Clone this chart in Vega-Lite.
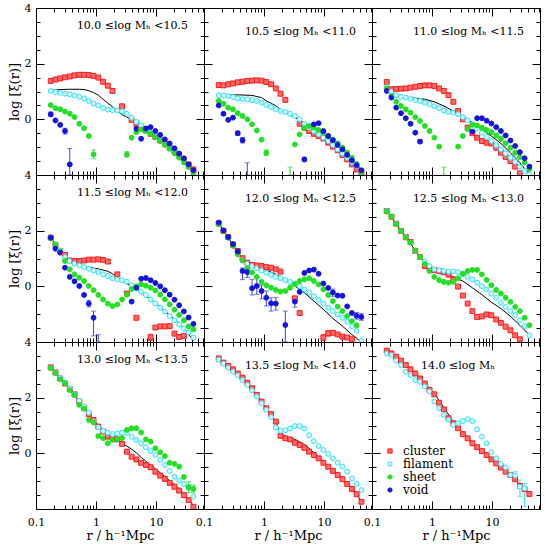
{
"$schema":"https://vega.github.io/schema/vega-lite/v6.json",
"background":"white",
"padding":{"left":7,"top":1,"right":2,"bottom":0},
"config":{"font":"DejaVu Serif","view":{"stroke":"black","strokeWidth":1},
"axis":{"labelFont":"DejaVu Serif","titleFont":"DejaVu Serif","labelFontSize":11,"titleFontSize":13,"titleFontWeight":"normal","labelColor":"black","titleColor":"black","tickColor":"black","domain":false,"grid":false,"tickWidth":1,"labelFlush":false,"labelOverlap":false},
"title":{"font":"DejaVu Serif","fontSize":11,"fontWeight":"normal","color":"black"},
"legend":{"labelFont":"DejaVu Serif"}},
"datasets":{
"pts":[
{"p":1,"r":0.176,"cluster":1.38,"filament":1.02,"sheet":0.51,"void":0.18,"model":1.04},
{"p":1,"r":0.211,"cluster":1.43,"filament":0.98,"sheet":0.40,"void":-0.04},
{"p":1,"r":0.253,"cluster":1.47,"filament":0.95,"sheet":0.36,"void":-0.20,"model":1.07},
{"p":1,"r":0.304,"cluster":1.51,"filament":0.92,"sheet":0.28,"void":-0.42},
{"p":1,"r":0.365,"cluster":1.54,"filament":0.90,"sheet":0.20,"void":-1.62,"model":1.08},
{"p":1,"r":0.438,"cluster":1.58,"filament":0.86,"sheet":0.08},
{"p":1,"r":0.526,"cluster":1.60,"filament":0.81,"sheet":-0.16,"model":1.08},
{"p":1,"r":0.631,"cluster":1.60,"filament":0.75,"sheet":-0.32,"model":1.07},
{"p":1,"r":0.757,"cluster":1.59,"filament":0.66,"sheet":-0.60,"model":1.03},
{"p":1,"r":0.908,"cluster":1.56,"filament":0.57,"sheet":-1.26,"model":0.96},
{"p":1,"r":1.09,"cluster":1.50,"filament":0.50,"model":0.87},
{"p":1,"r":1.31,"cluster":1.35,"filament":0.41,"model":0.72},
{"p":1,"r":1.57,"cluster":1.21,"filament":0.35,"model":0.58},
{"p":1,"r":1.88,"cluster":1.02,"filament":0.33,"model":0.45},
{"p":1,"r":2.26,"filament":0.32,"model":0.30},
{"p":1,"r":2.71,"cluster":0.47,"filament":0.29,"model":0.17},
{"p":1,"r":3.26,"filament":0.20,"sheet":-1.26,"model":0.08},
{"p":1,"r":3.91,"cluster":-0.02,"filament":0.06,"sheet":-0.66,"model":-0.02},
{"p":1,"r":4.69,"cluster":-0.16,"filament":-0.09,"sheet":-0.46,"void":-0.34,"model":-0.12},
{"p":1,"r":5.63,"cluster":-0.28,"filament":-0.22,"sheet":-0.36,"void":-0.70,"model":-0.24},
{"p":1,"r":6.75,"cluster":-0.40,"filament":-0.35,"sheet":-0.42,"void":-0.33,"model":-0.36},
{"p":1,"r":8.1,"cluster":-0.52,"filament":-0.48,"sheet":-0.52,"void":-0.28,"model":-0.48},
{"p":1,"r":9.72,"cluster":-0.63,"filament":-0.62,"sheet":-0.64,"void":-0.42,"model":-0.61},
{"p":1,"r":11.7,"cluster":-0.76,"filament":-0.75,"sheet":-0.78,"void":-0.56,"model":-0.74},
{"p":1,"r":14,"cluster":-0.88,"filament":-0.89,"sheet":-0.92,"void":-0.72,"model":-0.88},
{"p":1,"r":16.8,"cluster":-1.02,"filament":-1.03,"sheet":-1.06,"void":-0.87,"model":-1.02},
{"p":1,"r":20.2,"cluster":-1.15,"filament":-1.18,"sheet":-1.22,"void":-1.04,"model":-1.17},
{"p":1,"r":24.2,"cluster":-1.30,"filament":-1.35,"sheet":-1.38,"void":-1.23,"model":-1.33},
{"p":1,"r":29,"cluster":-1.45,"filament":-1.52,"sheet":-1.55,"void":-1.40,"model":-1.50},
{"p":1,"r":34.8,"cluster":-1.62,"filament":-1.67,"sheet":-1.72,"void":-1.62,"model":-1.67},
{"p":1,"r":41.8,"cluster":-1.80,"filament":-1.85,"sheet":-1.92,"void":-1.83,"model":-1.86},
{"p":2,"r":0.176,"cluster":1.23,"filament":0.87,"sheet":0.66,"void":0.50,"model":0.87},
{"p":2,"r":0.211,"cluster":1.22,"filament":0.86,"sheet":0.56,"void":0.20},
{"p":2,"r":0.253,"cluster":1.26,"filament":0.84,"sheet":0.42,"void":-0.02},
{"p":2,"r":0.304,"cluster":1.29,"filament":0.80,"sheet":0.36,"void":0.06},
{"p":2,"r":0.365,"cluster":1.33,"filament":0.75,"sheet":0.22,"void":-0.50,"model":0.88},
{"p":2,"r":0.438,"cluster":1.35,"filament":0.73,"sheet":0.12,"void":-0.75},
{"p":2,"r":0.526,"cluster":1.38,"filament":0.72,"sheet":0.00},
{"p":2,"r":0.631,"cluster":1.39,"filament":0.69,"sheet":-0.18,"model":0.86},
{"p":2,"r":0.757,"cluster":1.40,"filament":0.66,"sheet":-0.40},
{"p":2,"r":0.908,"cluster":1.39,"filament":0.60,"sheet":-0.73,"model":0.78},
{"p":2,"r":1.09,"cluster":1.34,"filament":0.51,"sheet":-1.20,"model":0.66},
{"p":2,"r":1.31,"cluster":1.26,"filament":0.44,"model":0.58},
{"p":2,"r":1.57,"cluster":1.11,"filament":0.36,"model":0.48},
{"p":2,"r":1.88,"cluster":0.92,"filament":0.30,"model":0.36},
{"p":2,"r":2.26,"cluster":0.70,"filament":0.26,"model":0.24},
{"p":2,"r":2.71,"filament":0.20,"model":0.15},
{"p":2,"r":3.26,"filament":0.12,"sheet":-0.90,"model":0.06},
{"p":2,"r":3.91,"cluster":-0.16,"filament":0.00,"sheet":-0.54,"model":-0.03},
{"p":2,"r":4.69,"cluster":-0.30,"filament":-0.16,"sheet":-0.32,"void":-1.44,"model":-0.12},
{"p":2,"r":5.63,"cluster":-0.42,"filament":-0.30,"sheet":-0.24,"model":-0.22},
{"p":2,"r":6.75,"cluster":-0.52,"filament":-0.42,"sheet":-0.30,"void":-0.18,"model":-0.33},
{"p":2,"r":8.1,"cluster":-0.60,"filament":-0.54,"sheet":-0.38,"void":-0.14,"model":-0.44},
{"p":2,"r":9.72,"cluster":-0.69,"filament":-0.66,"sheet":-0.48,"void":-0.42,"model":-0.55},
{"p":2,"r":11.7,"cluster":-0.84,"filament":-0.78,"sheet":-0.60,"void":-0.60,"model":-0.67},
{"p":2,"r":14,"cluster":-0.98,"filament":-0.92,"sheet":-0.73,"void":-0.75,"model":-0.80},
{"p":2,"r":16.8,"cluster":-1.11,"filament":-1.08,"sheet":-0.86,"void":-0.92,"model":-0.94},
{"p":2,"r":20.2,"cluster":-1.28,"filament":-1.23,"sheet":-1.02,"void":-1.08,"model":-1.08},
{"p":2,"r":24.2,"cluster":-1.44,"filament":-1.38,"sheet":-1.20,"void":-1.28,"model":-1.24},
{"p":2,"r":29,"cluster":-1.62,"filament":-1.53,"sheet":-1.38,"void":-1.47,"model":-1.40},
{"p":2,"r":34.8,"cluster":-1.80,"filament":-1.68,"sheet":-1.60,"void":-1.65,"model":-1.60},
{"p":2,"r":41.8,"cluster":-1.96,"filament":-1.86,"sheet":-1.90,"void":-1.83,"model":-1.85},
{"p":3,"r":0.176,"cluster":1.34,"filament":1.16,"sheet":1.11,"void":1.02,"model":1.11},
{"p":3,"r":0.211,"cluster":1.08,"filament":0.99,"sheet":0.84,"void":0.78},
{"p":3,"r":0.253,"cluster":1.09,"filament":0.86,"sheet":0.63,"void":0.42,"model":0.86},
{"p":3,"r":0.304,"cluster":1.10,"filament":0.81,"sheet":0.48,"void":0.22},
{"p":3,"r":0.365,"cluster":1.11,"filament":0.78,"sheet":0.36,"void":0.04,"model":0.78},
{"p":3,"r":0.438,"cluster":1.14,"filament":0.74,"sheet":0.24,"void":-0.16},
{"p":3,"r":0.526,"cluster":1.17,"filament":0.69,"sheet":0.08,"void":-0.48,"model":0.76},
{"p":3,"r":0.631,"cluster":1.20,"filament":0.66,"sheet":-0.06,"void":-0.80},
{"p":3,"r":0.757,"cluster":1.22,"filament":0.60,"sheet":-0.24,"model":0.72},
{"p":3,"r":0.908,"cluster":1.22,"filament":0.54,"sheet":-0.42},
{"p":3,"r":1.09,"cluster":1.20,"filament":0.47,"sheet":-0.66,"model":0.63},
{"p":3,"r":1.31,"cluster":1.11,"filament":0.40,"sheet":-0.98},
{"p":3,"r":1.57,"cluster":1.02,"filament":0.32,"model":0.48},
{"p":3,"r":1.88,"cluster":0.87,"filament":0.26},
{"p":3,"r":2.26,"cluster":0.63,"filament":0.24,"model":0.30},
{"p":3,"r":2.71,"cluster":0.30,"filament":0.18,"sheet":-0.98},
{"p":3,"r":3.26,"cluster":0.00,"filament":0.08,"sheet":-0.60,"model":0.12},
{"p":3,"r":3.91,"cluster":-0.30,"filament":-0.04,"sheet":-0.35},
{"p":3,"r":4.69,"cluster":-0.50,"filament":-0.18,"sheet":-0.20,"void":-0.44,"model":-0.12},
{"p":3,"r":5.63,"cluster":-0.66,"filament":-0.32,"sheet":-0.22,"void":0.04},
{"p":3,"r":6.75,"cluster":-0.78,"filament":-0.48,"sheet":-0.30,"void":0.04,"model":-0.36},
{"p":3,"r":8.1,"cluster":-0.84,"filament":-0.63,"sheet":-0.38,"void":-0.05},
{"p":3,"r":9.72,"cluster":-0.87,"filament":-0.78,"sheet":-0.46,"void":-0.15,"model":-0.60},
{"p":3,"r":11.7,"cluster":-1.02,"filament":-0.93,"sheet":-0.58,"void":-0.28},
{"p":3,"r":14,"cluster":-1.20,"filament":-1.08,"sheet":-0.70,"void":-0.42,"model":-0.87},
{"p":3,"r":16.8,"cluster":-1.35,"filament":-1.23,"sheet":-0.86,"void":-0.58},
{"p":3,"r":20.2,"cluster":-1.50,"filament":-1.38,"sheet":-1.02,"void":-0.76,"model":-1.20},
{"p":3,"r":24.2,"cluster":-1.70,"filament":-1.53,"sheet":-1.20,"void":-0.96},
{"p":3,"r":29,"cluster":-1.94,"filament":-1.70,"sheet":-1.36,"void":-1.18,"model":-1.56},
{"p":3,"r":34.8,"filament":-1.86,"sheet":-1.55,"void":-1.40},
{"p":3,"r":41.8,"filament":-1.98,"sheet":-1.78,"void":-1.70,"model":-1.98},
{"p":4,"r":0.176,"cluster":1.75,"filament":1.75,"sheet":1.72,"void":1.75,"model":1.75},
{"p":4,"r":0.211,"cluster":1.49,"filament":1.51,"sheet":1.49,"void":1.35},
{"p":4,"r":0.253,"cluster":1.27,"filament":1.29,"sheet":1.25,"void":1.21,"model":1.27},
{"p":4,"r":0.304,"cluster":1.13,"filament":1.05,"sheet":0.91,"void":0.67,"model":1.05},
{"p":4,"r":0.365,"cluster":0.93,"filament":0.91,"sheet":0.61,"void":0.34,"model":0.90},
{"p":4,"r":0.438,"cluster":0.91,"filament":0.81,"sheet":0.43,"void":0.18,"model":0.80},
{"p":4,"r":0.526,"cluster":0.91,"filament":0.75,"sheet":0.31,"void":0.01,"model":0.74},
{"p":4,"r":0.631,"cluster":0.93,"filament":0.69,"sheet":0.19,"void":-0.31},
{"p":4,"r":0.757,"cluster":0.96,"filament":0.63,"sheet":0.01,"void":-0.62,"model":0.68},
{"p":4,"r":0.908,"cluster":0.96,"filament":0.57,"sheet":-0.14,"void":-1.13},
{"p":4,"r":1.09,"cluster":0.97,"filament":0.51,"sheet":-0.31,"model":0.63},
{"p":4,"r":1.31,"cluster":0.95,"filament":0.43,"sheet":-0.47},
{"p":4,"r":1.57,"cluster":0.89,"filament":0.37,"sheet":-0.62,"model":0.54},
{"p":4,"r":1.88,"filament":0.29,"sheet":-0.71,"model":0.45},
{"p":4,"r":2.26,"cluster":0.43,"filament":0.25,"sheet":-0.65,"model":0.34},
{"p":4,"r":2.71,"filament":0.22,"sheet":-0.47},
{"p":4,"r":3.26,"cluster":-0.26,"filament":0.17,"sheet":-0.30,"model":0.10},
{"p":4,"r":3.91,"filament":0.04,"sheet":-0.10,"void":-0.55},
{"p":4,"r":4.69,"cluster":-1.13,"filament":-0.07,"sheet":0.00,"void":-0.05,"model":-0.11},
{"p":4,"r":5.63,"filament":-0.19,"sheet":0.07,"void":0.27},
{"p":4,"r":6.75,"filament":-0.31,"sheet":0.02,"void":0.30,"model":-0.35},
{"p":4,"r":8.1,"cluster":-1.83,"filament":-0.47,"sheet":-0.05,"void":0.22},
{"p":4,"r":9.72,"cluster":-1.48,"filament":-0.61,"sheet":-0.15,"void":0.12,"model":-0.59},
{"p":4,"r":11.7,"cluster":-1.44,"filament":-0.77,"sheet":-0.30,"void":0.00},
{"p":4,"r":14,"cluster":-1.44,"filament":-0.91,"sheet":-0.47,"void":-0.14,"model":-0.89},
{"p":4,"r":16.8,"cluster":-1.43,"filament":-1.07,"sheet":-0.65,"void":-0.30},
{"p":4,"r":20.2,"cluster":-1.70,"filament":-1.22,"sheet":-0.84,"void":-0.48,"model":-1.19},
{"p":4,"r":24.2,"cluster":-1.82,"filament":-1.37,"sheet":-1.03,"void":-0.68},
{"p":4,"r":29,"cluster":-1.78,"filament":-1.52,"sheet":-1.22,"void":-0.90,"model":-1.49},
{"p":4,"r":34.8,"filament":-1.66,"sheet":-1.44,"void":-1.12},
{"p":4,"r":41.8,"filament":-1.84,"sheet":-1.55,"void":-1.35,"model":-1.96},
{"p":5,"r":0.176,"cluster":2.26,"filament":2.25,"sheet":2.23,"void":2.29,"model":2.26},
{"p":5,"r":0.211,"cluster":1.99,"filament":2.01,"sheet":1.99,"void":2.01},
{"p":5,"r":0.253,"cluster":1.77,"filament":1.75,"sheet":1.75,"void":1.77,"model":1.75},
{"p":5,"r":0.304,"cluster":1.49,"filament":1.51,"sheet":1.45,"void":1.52},
{"p":5,"r":0.365,"cluster":1.27,"filament":1.21,"sheet":1.15,"void":1.25,"model":1.21},
{"p":5,"r":0.438,"cluster":1.01,"filament":0.93,"sheet":0.93,"void":0.55},
{"p":5,"r":0.526,"cluster":0.85,"filament":0.81,"sheet":0.65,"void":0.51,"model":0.81},
{"p":5,"r":0.631,"cluster":0.77,"filament":0.73,"sheet":0.50,"void":-0.07},
{"p":5,"r":0.757,"cluster":0.75,"filament":0.65,"sheet":0.34,"void":0.01,"model":0.69},
{"p":5,"r":0.908,"cluster":0.73,"filament":0.57,"sheet":0.16,"void":-0.17},
{"p":5,"r":1.09,"cluster":0.69,"filament":0.49,"sheet":0.04,"void":-0.41,"model":0.59},
{"p":5,"r":1.31,"cluster":0.67,"filament":0.41,"sheet":-0.05,"void":-0.61},
{"p":5,"r":1.57,"cluster":0.61,"filament":0.34,"sheet":-0.13,"void":-0.62,"model":0.43},
{"p":5,"r":1.88,"cluster":0.53,"filament":0.29,"sheet":-0.19},
{"p":5,"r":2.26,"filament":0.22,"sheet":-0.17,"void":-1.39,"model":0.25},
{"p":5,"r":2.71,"filament":0.16,"sheet":-0.05},
{"p":5,"r":3.26,"cluster":-0.43,"filament":0.10,"sheet":0.07,"void":-0.55,"model":0.01},
{"p":5,"r":3.91,"cluster":-0.96,"filament":0.01,"sheet":0.19,"void":-0.20},
{"p":5,"r":4.69,"filament":-0.11,"sheet":0.25,"void":0.48,"model":-0.23},
{"p":5,"r":5.63,"filament":-0.23,"sheet":0.29,"void":0.57},
{"p":5,"r":6.75,"filament":-0.35,"sheet":0.19,"void":0.60,"model":-0.53},
{"p":5,"r":8.1,"filament":-0.49,"sheet":0.07,"void":0.45},
{"p":5,"r":9.72,"cluster":-1.84,"filament":-0.62,"sheet":-0.11,"void":0.10,"model":-0.83},
{"p":5,"r":11.7,"cluster":-1.69,"filament":-0.77,"sheet":-0.31,"void":-0.06},
{"p":5,"r":14,"cluster":-1.67,"filament":-0.89,"sheet":-0.53,"void":-0.22,"model":-1.15},
{"p":5,"r":16.8,"cluster":-1.73,"filament":-1.01,"sheet":-0.73,"void":-0.33},
{"p":5,"r":20.2,"cluster":-1.81,"filament":-1.13,"sheet":-0.89,"void":-0.34,"model":-1.43},
{"p":5,"r":24.2,"cluster":-1.84,"filament":-1.27,"sheet":-1.07,"void":-0.72},
{"p":5,"r":29,"cluster":-1.90,"filament":-1.43,"sheet":-1.25,"void":-0.96,"model":-1.73},
{"p":5,"r":34.8,"filament":-1.60,"sheet":-1.40,"void":-1.06},
{"p":5,"r":41.8,"filament":-1.96,"void":-1.10,"model":-2.0},
{"p":6,"r":0.176,"cluster":2.71,"filament":2.71,"sheet":2.68,"model":2.71},
{"p":6,"r":0.211,"cluster":2.50,"filament":2.50,"sheet":2.50},
{"p":6,"r":0.253,"cluster":2.25,"filament":2.25,"sheet":2.23,"model":2.25},
{"p":6,"r":0.304,"cluster":1.99,"filament":1.99,"sheet":1.99},
{"p":6,"r":0.365,"cluster":1.77,"filament":1.77,"sheet":1.75,"model":1.77},
{"p":6,"r":0.438,"cluster":1.59,"filament":1.57,"sheet":1.57},
{"p":6,"r":0.526,"cluster":1.27,"filament":1.27,"sheet":1.29,"model":1.29},
{"p":6,"r":0.631,"cluster":1.05,"filament":1.05,"sheet":1.05},
{"p":6,"r":0.757,"cluster":0.73,"filament":0.89,"sheet":0.80,"model":0.81},
{"p":6,"r":0.908,"cluster":0.63,"filament":0.73,"sheet":0.55},
{"p":6,"r":1.09,"cluster":0.59,"filament":0.61,"sheet":0.34,"model":0.61},
{"p":6,"r":1.31,"cluster":0.55,"filament":0.58,"sheet":0.22},
{"p":6,"r":1.57,"cluster":0.51,"filament":0.55,"sheet":0.16,"model":0.49},
{"p":6,"r":1.88,"cluster":0.42,"filament":0.53,"sheet":0.13},
{"p":6,"r":2.26,"cluster":0.25,"filament":0.53,"sheet":0.16,"model":0.34},
{"p":6,"r":2.71,"cluster":-0.01,"filament":0.51,"sheet":0.29},
{"p":6,"r":3.26,"cluster":-0.33,"filament":0.43,"sheet":0.45,"model":0.19},
{"p":6,"r":3.91,"cluster":-0.62,"filament":0.34,"sheet":0.55},
{"p":6,"r":4.69,"cluster":-0.89,"filament":0.25,"sheet":0.59,"model":-0.05},
{"p":6,"r":5.63,"cluster":-1.10,"filament":0.13,"sheet":0.59},
{"p":6,"r":6.75,"cluster":-1.08,"filament":0.01,"sheet":0.43,"model":-0.30},
{"p":6,"r":8.1,"cluster":-1.01,"filament":-0.11,"sheet":0.23},
{"p":6,"r":9.72,"cluster":-1.04,"filament":-0.26,"sheet":0.04,"model":-0.57},
{"p":6,"r":11.7,"cluster":-1.19,"filament":-0.41,"sheet":-0.13},
{"p":6,"r":14,"cluster":-1.31,"filament":-0.59,"sheet":-0.26,"model":-0.80},
{"p":6,"r":16.8,"cluster":-1.45,"filament":-0.74,"sheet":-0.41},
{"p":6,"r":20.2,"cluster":-1.58,"filament":-0.89,"sheet":-0.56,"model":-1.08},
{"p":6,"r":24.2,"cluster":-1.76,"filament":-1.03,"sheet":-0.74},
{"p":6,"r":29,"cluster":-1.90,"filament":-1.22,"sheet":-0.89,"model":-1.40},
{"p":6,"r":34.8,"filament":-1.43,"sheet":-1.13},
{"p":6,"r":41.8,"filament":-1.76,"sheet":-1.40,"model":-1.75},
{"p":7,"r":0.176,"cluster":3.09,"filament":3.08,"sheet":3.06,"model":3.08},
{"p":7,"r":0.211,"cluster":2.91,"filament":2.91,"sheet":2.88},
{"p":7,"r":0.253,"cluster":2.69,"filament":2.71,"sheet":2.66},
{"p":7,"r":0.304,"cluster":2.51,"filament":2.54,"sheet":2.51,"model":2.52},
{"p":7,"r":0.365,"cluster":2.31,"filament":2.34,"sheet":2.27},
{"p":7,"r":0.438,"cluster":2.12,"filament":2.13,"sheet":2.10},
{"p":7,"r":0.526,"cluster":1.86,"filament":1.88,"sheet":1.74,"model":1.86},
{"p":7,"r":0.631,"cluster":1.64,"filament":1.68,"sheet":1.60},
{"p":7,"r":0.757,"cluster":1.41,"filament":1.46,"sheet":1.20},
{"p":7,"r":0.908,"cluster":1.20,"filament":1.14,"sheet":1.11,"model":1.20},
{"p":7,"r":1.09,"cluster":0.96,"filament":0.93,"sheet":0.62},
{"p":7,"r":1.31,"cluster":0.78,"filament":0.80,"sheet":0.54,"model":0.85},
{"p":7,"r":1.57,"cluster":0.60,"filament":0.74,"sheet":0.36,"model":0.70},
{"p":7,"r":1.88,"cluster":0.56,"filament":0.69,"sheet":0.48,"model":0.58},
{"p":7,"r":2.26,"cluster":0.50,"filament":0.72,"sheet":0.50,"model":0.45},
{"p":7,"r":2.71,"cluster":0.34,"filament":0.74,"sheet":0.55,"model":0.36},
{"p":7,"r":3.26,"cluster":0.06,"filament":0.74,"sheet":0.84,"model":0.26},
{"p":7,"r":3.91,"cluster":-0.12,"filament":0.60,"sheet":0.90,"model":0.15},
{"p":7,"r":4.69,"cluster":-0.22,"filament":0.48,"sheet":0.90,"model":0.02},
{"p":7,"r":5.63,"cluster":-0.34,"filament":0.36,"sheet":0.75,"model":-0.15},
{"p":7,"r":6.75,"cluster":-0.42,"filament":0.22,"sheet":0.50,"model":-0.28},
{"p":7,"r":8.1,"cluster":-0.50,"filament":0.08,"sheet":0.42,"model":-0.42},
{"p":7,"r":9.72,"cluster":-0.66,"filament":-0.06,"sheet":0.18,"model":-0.55},
{"p":7,"r":11.7,"cluster":-0.80,"filament":-0.24,"sheet":0.04,"model":-0.70},
{"p":7,"r":14,"cluster":-0.92,"filament":-0.42,"sheet":-0.10,"model":-0.84},
{"p":7,"r":16.8,"cluster":-1.06,"filament":-0.63,"sheet":-0.34,"model":-0.98},
{"p":7,"r":20.2,"cluster":-1.20,"filament":-0.84,"sheet":-0.38,"model":-1.12},
{"p":7,"r":24.2,"cluster":-1.34,"filament":-0.98,"sheet":-0.48,"model":-1.28},
{"p":7,"r":29,"cluster":-1.50,"filament":-1.10,"sheet":-0.85,"model":-1.45},
{"p":7,"r":34.8,"cluster":-1.68,"filament":-1.22,"sheet":-1.22,"model":-1.62},
{"p":7,"r":41.8,"cluster":-1.92,"filament":-1.56,"sheet":-1.28,"model":-1.90},
{"p":8,"r":0.176,"cluster":3.41,"filament":3.36,"model":3.40},
{"p":8,"r":0.211,"cluster":3.26,"filament":3.22},
{"p":8,"r":0.253,"cluster":3.14,"filament":3.08,"model":3.14},
{"p":8,"r":0.304,"cluster":3.02,"filament":2.93},
{"p":8,"r":0.365,"cluster":2.87,"filament":2.80,"model":2.86},
{"p":8,"r":0.438,"cluster":2.72,"filament":2.63},
{"p":8,"r":0.526,"cluster":2.54,"filament":2.46,"model":2.53},
{"p":8,"r":0.631,"cluster":2.34,"filament":2.26},
{"p":8,"r":0.757,"cluster":2.10,"filament":2.04,"model":2.10},
{"p":8,"r":0.908,"cluster":1.86,"filament":1.80},
{"p":8,"r":1.09,"cluster":1.62,"filament":1.56,"model":1.62},
{"p":8,"r":1.31,"cluster":1.41,"filament":1.30},
{"p":8,"r":1.57,"cluster":1.14,"filament":0.93,"model":1.14},
{"p":8,"r":1.88,"cluster":0.63,"filament":0.81,"model":0.72},
{"p":8,"r":2.26,"cluster":0.54,"filament":0.83,"model":0.62},
{"p":8,"r":2.71,"cluster":0.50,"filament":0.89,"model":0.56},
{"p":8,"r":3.26,"cluster":0.38,"filament":0.98,"model":0.50},
{"p":8,"r":3.91,"cluster":0.30,"filament":0.98,"model":0.42},
{"p":8,"r":4.69,"cluster":0.20,"filament":0.89,"model":0.32},
{"p":8,"r":5.63,"cluster":0.06,"filament":0.65,"model":0.18},
{"p":8,"r":6.75,"cluster":-0.06,"filament":0.44,"model":0.02},
{"p":8,"r":8.1,"cluster":-0.18,"filament":0.26,"model":-0.14},
{"p":8,"r":9.72,"cluster":-0.34,"filament":0.12,"model":-0.30},
{"p":8,"r":11.7,"cluster":-0.48,"filament":-0.02,"model":-0.46},
{"p":8,"r":14,"cluster":-0.63,"filament":-0.18,"model":-0.62},
{"p":8,"r":16.8,"cluster":-0.78,"filament":-0.34,"model":-0.78},
{"p":8,"r":20.2,"cluster":-0.93,"filament":-0.48,"model":-0.94},
{"p":8,"r":24.2,"cluster":-1.10,"filament":-0.66,"model":-1.10},
{"p":8,"r":29,"cluster":-1.28,"filament":-0.90,"model":-1.26},
{"p":8,"r":34.8,"cluster":-1.47,"filament":-1.10,"model":-1.46},
{"p":8,"r":41.8,"cluster":-1.74,"filament":-1.32,"model":-1.74},
{"p":9,"r":0.176,"cluster":3.69,"filament":3.59,"model":3.70},
{"p":9,"r":0.211,"cluster":3.59,"filament":3.53},
{"p":9,"r":0.253,"cluster":3.47,"filament":3.33,"model":3.46},
{"p":9,"r":0.304,"cluster":3.33,"filament":3.17},
{"p":9,"r":0.365,"cluster":3.17,"filament":2.93,"model":3.18},
{"p":9,"r":0.438,"cluster":3.02,"filament":2.81},
{"p":9,"r":0.526,"cluster":2.87,"filament":2.63,"model":2.88},
{"p":9,"r":0.631,"cluster":2.69,"filament":2.57},
{"p":9,"r":0.757,"cluster":2.51,"filament":2.40,"model":2.52},
{"p":9,"r":0.908,"cluster":2.28,"filament":2.22},
{"p":9,"r":1.09,"cluster":2.12,"filament":1.86,"model":2.15},
{"p":9,"r":1.31,"cluster":1.82,"filament":1.62},
{"p":9,"r":1.57,"cluster":1.58,"filament":1.38,"model":1.65},
{"p":9,"r":1.88,"cluster":1.26,"filament":1.20},
{"p":9,"r":2.26,"cluster":1.08,"filament":1.02,"model":1.12},
{"p":9,"r":2.71,"cluster":0.90,"filament":1.08},
{"p":9,"r":3.26,"cluster":0.69,"filament":1.16,"model":0.74},
{"p":9,"r":3.91,"cluster":0.54,"filament":1.23},
{"p":9,"r":4.69,"cluster":0.36,"filament":1.16,"model":0.40},
{"p":9,"r":5.63,"cluster":0.22,"filament":0.86},
{"p":9,"r":6.75,"cluster":0.08,"filament":0.60,"model":0.10},
{"p":9,"r":8.1,"cluster":-0.06,"filament":0.36},
{"p":9,"r":9.72,"cluster":-0.22,"filament":0.04,"model":-0.20},
{"p":9,"r":11.7,"cluster":-0.36,"filament":-0.18},
{"p":9,"r":14,"cluster":-0.51,"filament":-0.38,"model":-0.50},
{"p":9,"r":16.8,"cluster":-0.66,"filament":-0.51},
{"p":9,"r":20.2,"cluster":-0.78,"filament":-0.78,"model":-0.80},
{"p":9,"r":24.2,"cluster":-0.93,"filament":-0.80},
{"p":9,"r":29,"cluster":-1.17,"filament":-1.20,"model":-1.12},
{"p":9,"r":34.8,"cluster":-1.29,"filament":-1.26},
{"p":9,"r":41.8,"cluster":-1.46,"model":-1.44}
],
"err":[
{"p":1,"type":"void","r":0.176,"lo":0.10,"hi":0.26},
{"p":1,"type":"void","r":0.304,"lo":-0.53,"hi":-0.32},
{"p":1,"type":"void","r":0.365,"lo":-2.0,"hi":-1.05},
{"p":1,"type":"sheet","r":0.908,"lo":-1.42,"hi":-1.10},
{"p":1,"type":"sheet","r":3.26,"lo":-1.36,"hi":-1.16},
{"p":2,"type":"void","r":0.365,"lo":-0.58,"hi":-0.42},
{"p":2,"type":"void","r":0.438,"lo":-0.85,"hi":-0.65},
{"p":2,"type":"void","r":0.526,"lo":-2.0,"hi":-1.56},
{"p":2,"type":"sheet","r":1.09,"lo":-1.30,"hi":-1.10},
{"p":2,"type":"sheet","r":2.71,"lo":-2.0,"hi":-1.72},
{"p":2,"type":"void","r":4.69,"lo":-1.52,"hi":-1.36},
{"p":3,"type":"void","r":0.631,"lo":-0.87,"hi":-0.73},
{"p":3,"type":"sheet","r":1.57,"lo":-2.0,"hi":-1.72},
{"p":4,"type":"void","r":0.757,"lo":-0.74,"hi":-0.50},
{"p":4,"type":"void","r":0.908,"lo":-1.78,"hi":-0.89},
{"p":4,"type":"void","r":1.09,"lo":-2.0,"hi":-1.74},
{"p":4,"type":"cluster","r":8.1,"lo":-1.95,"hi":-1.72},
{"p":5,"type":"void","r":0.211,"lo":1.93,"hi":2.08},
{"p":5,"type":"void","r":0.438,"lo":0.24,"hi":0.66},
{"p":5,"type":"void","r":0.526,"lo":0.32,"hi":0.70},
{"p":5,"type":"void","r":0.631,"lo":-0.31,"hi":0.25},
{"p":5,"type":"void","r":0.757,"lo":-0.29,"hi":0.31},
{"p":5,"type":"void","r":0.908,"lo":-0.45,"hi":0.05},
{"p":5,"type":"void","r":1.09,"lo":-0.71,"hi":-0.17},
{"p":5,"type":"void","r":1.31,"lo":-0.89,"hi":-0.41},
{"p":5,"type":"void","r":1.57,"lo":-0.85,"hi":-0.40},
{"p":5,"type":"void","r":2.26,"lo":-2.0,"hi":-0.89},
{"p":5,"type":"void","r":3.26,"lo":-0.75,"hi":-0.38},
{"p":5,"type":"void","r":14,"lo":-0.36,"hi":-0.10},
{"p":5,"type":"void","r":34.8,"lo":-1.18,"hi":-0.94},
{"p":5,"type":"void","r":41.8,"lo":-1.22,"hi":-0.98},
{"p":5,"type":"cluster","r":9.72,"lo":-1.95,"hi":-1.72},
{"p":5,"type":"cluster","r":11.7,"lo":-1.79,"hi":-1.59},
{"p":7,"type":"sheet","r":34.8,"lo":-1.42,"hi":-1.02},
{"p":7,"type":"filament","r":34.8,"lo":-1.32,"hi":-1.12},
{"p":7,"type":"sheet","r":41.8,"lo":-1.42,"hi":-1.14},
{"p":9,"type":"filament","r":24.2,"lo":-0.95,"hi":-0.65},
{"p":9,"type":"filament","r":29,"lo":-1.56,"hi":-0.96},
{"p":9,"type":"filament","r":34.8,"lo":-1.92,"hi":-1.08}
]},
"columns":3,"spacing":0,"bounds":"flush",
"resolve":{"scale":{"shape":"independent","fill":"independent","stroke":"independent","color":"independent"}},
"concat":[
{"width":168,"height":167,"title":{"text":"10.0 ≤log Mₕ <10.5","frame":"group","anchor":"end","offset":-21,"dx":-16,"dy":17,"baseline":"alphabetic"},
"resolve":{"axis":{"x":"independent","y":"independent"}},
"layer":[
{"data":{"name":"pts"},"transform":[{"filter":"datum.p==1"},{"filter":"isValid(datum.model)"}],"mark":{"type":"line","color":"black","strokeWidth":1,"clip":true},
"encoding":{"x":{"field":"r","type":"quantitative","scale":{"type":"log","domain":[0.1,62.7],"nice":false},"axis":{"orient":"bottom","values":[0.1,0.2,0.3,0.4,0.5,0.6,0.7,0.8,0.9,1,2,3,4,5,6,7,8,9,10,20,30,40,50,60],"tickSize":{"condition":{"test":"datum.value==0.1||datum.value==1||datum.value==10","value":-8},"value":-4},"labels":false,"title":null}},
"y":{"field":"model","type":"quantitative","scale":{"domain":[-2,4],"nice":false,"zero":false},"axis":{"orient":"left","values":[-2,-1.5,-1,-0.5,0,0.5,1,1.5,2,2.5,3,3.5,4],"tickSize":{"condition":{"test":"datum.value==0||datum.value==2||datum.value==4||datum.value==-2","value":-8},"value":-4},"labelExpr":"datum.value==0?'0':datum.value==2?'2':datum.value==4?'4':''","labelPadding":13,"title":"log [ξ(r)]","titlePadding":3}}}},
{"data":{"name":"err"},"transform":[{"filter":"datum.p==1"}],"mark":{"type":"errorbar","ticks":true},
"encoding":{"x":{"field":"r","type":"quantitative","scale":{"type":"log","domain":[0.1,62.7],"nice":false},"axis":null},"y":{"field":"lo","type":"quantitative","scale":{"domain":[-2,4],"nice":false,"zero":false},"axis":null},"y2":{"field":"hi"},
"color":{"field":"type","type":"nominal","scale":{"domain":["cluster","filament","sheet","void"],"range":["#ff2a2a","#2fe3f5","#22e022","#4040f0"]},"legend":null}}},
{"data":{"name":"pts"},"transform":[{"filter":"datum.p==1"},{"fold":["cluster","filament","sheet","void"],"as":["type","val"]},{"filter":"isValid(datum.val)"}],"mark":{"type":"point","filled":true,"size":24,"strokeWidth":1,"opacity":1,"clip":true},
"encoding":{"x":{"field":"r","type":"quantitative","scale":{"type":"log","domain":[0.1,62.7],"nice":false},"axis":{"orient":"top","values":[0.1,0.2,0.3,0.4,0.5,0.6,0.7,0.8,0.9,1,2,3,4,5,6,7,8,9,10,20,30,40,50,60],"tickSize":{"condition":{"test":"datum.value==0.1||datum.value==1||datum.value==10","value":-8},"value":-4},"labels":false,"title":null}},
"y":{"field":"val","type":"quantitative","scale":{"domain":[-2,4],"nice":false,"zero":false},"axis":{"orient":"right","values":[-2,-1.5,-1,-0.5,0,0.5,1,1.5,2,2.5,3,3.5,4],"tickSize":{"condition":{"test":"datum.value==0||datum.value==2||datum.value==4||datum.value==-2","value":-8},"value":-4},"labels":false,"title":null}},
"shape":{"field":"type","type":"nominal","scale":{"domain":["cluster","filament","sheet","void"],"range":["square","circle","circle","circle"]},"legend":null},
"fill":{"field":"type","type":"nominal","scale":{"domain":["cluster","filament","sheet","void"],"range":["#ff6a6a","#d6faff","#22e022","#1414e0"]},"legend":null},
"stroke":{"field":"type","type":"nominal","scale":{"domain":["cluster","filament","sheet","void"],"range":["#ff1a1a","#2fe3f5","#22e022","#1414e0"]},"legend":null}}}
]},
{"width":168,"height":167,"title":{"text":"10.5 ≤log Mₕ <11.0","frame":"group","anchor":"end","offset":-21,"dx":-16,"dy":17,"baseline":"alphabetic"},
"resolve":{"axis":{"x":"independent","y":"independent"}},
"layer":[
{"data":{"name":"pts"},"transform":[{"filter":"datum.p==2"},{"filter":"isValid(datum.model)"}],"mark":{"type":"line","color":"black","strokeWidth":1,"clip":true},
"encoding":{"x":{"field":"r","type":"quantitative","scale":{"type":"log","domain":[0.1,62.7],"nice":false},"axis":{"orient":"bottom","values":[0.1,0.2,0.3,0.4,0.5,0.6,0.7,0.8,0.9,1,2,3,4,5,6,7,8,9,10,20,30,40,50,60],"tickSize":{"condition":{"test":"datum.value==0.1||datum.value==1||datum.value==10","value":-8},"value":-4},"labels":false,"title":null}},
"y":{"field":"model","type":"quantitative","scale":{"domain":[-2,4],"nice":false,"zero":false},"axis":{"orient":"left","values":[-2,-1.5,-1,-0.5,0,0.5,1,1.5,2,2.5,3,3.5,4],"tickSize":{"condition":{"test":"datum.value==0||datum.value==2||datum.value==4||datum.value==-2","value":-8},"value":-4},"labels":false,"title":null}}}},
{"data":{"name":"err"},"transform":[{"filter":"datum.p==2"}],"mark":{"type":"errorbar","ticks":true},
"encoding":{"x":{"field":"r","type":"quantitative","scale":{"type":"log","domain":[0.1,62.7],"nice":false},"axis":null},"y":{"field":"lo","type":"quantitative","scale":{"domain":[-2,4],"nice":false,"zero":false},"axis":null},"y2":{"field":"hi"},
"color":{"field":"type","type":"nominal","scale":{"domain":["cluster","filament","sheet","void"],"range":["#ff2a2a","#2fe3f5","#22e022","#4040f0"]},"legend":null}}},
{"data":{"name":"pts"},"transform":[{"filter":"datum.p==2"},{"fold":["cluster","filament","sheet","void"],"as":["type","val"]},{"filter":"isValid(datum.val)"}],"mark":{"type":"point","filled":true,"size":24,"strokeWidth":1,"opacity":1,"clip":true},
"encoding":{"x":{"field":"r","type":"quantitative","scale":{"type":"log","domain":[0.1,62.7],"nice":false},"axis":{"orient":"top","values":[0.1,0.2,0.3,0.4,0.5,0.6,0.7,0.8,0.9,1,2,3,4,5,6,7,8,9,10,20,30,40,50,60],"tickSize":{"condition":{"test":"datum.value==0.1||datum.value==1||datum.value==10","value":-8},"value":-4},"labels":false,"title":null}},
"y":{"field":"val","type":"quantitative","scale":{"domain":[-2,4],"nice":false,"zero":false},"axis":{"orient":"right","values":[-2,-1.5,-1,-0.5,0,0.5,1,1.5,2,2.5,3,3.5,4],"tickSize":{"condition":{"test":"datum.value==0||datum.value==2||datum.value==4||datum.value==-2","value":-8},"value":-4},"labels":false,"title":null}},
"shape":{"field":"type","type":"nominal","scale":{"domain":["cluster","filament","sheet","void"],"range":["square","circle","circle","circle"]},"legend":null},
"fill":{"field":"type","type":"nominal","scale":{"domain":["cluster","filament","sheet","void"],"range":["#ff6a6a","#d6faff","#22e022","#1414e0"]},"legend":null},
"stroke":{"field":"type","type":"nominal","scale":{"domain":["cluster","filament","sheet","void"],"range":["#ff1a1a","#2fe3f5","#22e022","#1414e0"]},"legend":null}}}
]},
{"width":168,"height":167,"title":{"text":"11.0 ≤log Mₕ <11.5","frame":"group","anchor":"end","offset":-21,"dx":-16,"dy":17,"baseline":"alphabetic"},
"resolve":{"axis":{"x":"independent","y":"independent"}},
"layer":[
{"data":{"name":"pts"},"transform":[{"filter":"datum.p==3"},{"filter":"isValid(datum.model)"}],"mark":{"type":"line","color":"black","strokeWidth":1,"clip":true},
"encoding":{"x":{"field":"r","type":"quantitative","scale":{"type":"log","domain":[0.1,62.7],"nice":false},"axis":{"orient":"bottom","values":[0.1,0.2,0.3,0.4,0.5,0.6,0.7,0.8,0.9,1,2,3,4,5,6,7,8,9,10,20,30,40,50,60],"tickSize":{"condition":{"test":"datum.value==0.1||datum.value==1||datum.value==10","value":-8},"value":-4},"labels":false,"title":null}},
"y":{"field":"model","type":"quantitative","scale":{"domain":[-2,4],"nice":false,"zero":false},"axis":{"orient":"left","values":[-2,-1.5,-1,-0.5,0,0.5,1,1.5,2,2.5,3,3.5,4],"tickSize":{"condition":{"test":"datum.value==0||datum.value==2||datum.value==4||datum.value==-2","value":-8},"value":-4},"labels":false,"title":null}}}},
{"data":{"name":"err"},"transform":[{"filter":"datum.p==3"}],"mark":{"type":"errorbar","ticks":true},
"encoding":{"x":{"field":"r","type":"quantitative","scale":{"type":"log","domain":[0.1,62.7],"nice":false},"axis":null},"y":{"field":"lo","type":"quantitative","scale":{"domain":[-2,4],"nice":false,"zero":false},"axis":null},"y2":{"field":"hi"},
"color":{"field":"type","type":"nominal","scale":{"domain":["cluster","filament","sheet","void"],"range":["#ff2a2a","#2fe3f5","#22e022","#4040f0"]},"legend":null}}},
{"data":{"name":"pts"},"transform":[{"filter":"datum.p==3"},{"fold":["cluster","filament","sheet","void"],"as":["type","val"]},{"filter":"isValid(datum.val)"}],"mark":{"type":"point","filled":true,"size":24,"strokeWidth":1,"opacity":1,"clip":true},
"encoding":{"x":{"field":"r","type":"quantitative","scale":{"type":"log","domain":[0.1,62.7],"nice":false},"axis":{"orient":"top","values":[0.1,0.2,0.3,0.4,0.5,0.6,0.7,0.8,0.9,1,2,3,4,5,6,7,8,9,10,20,30,40,50,60],"tickSize":{"condition":{"test":"datum.value==0.1||datum.value==1||datum.value==10","value":-8},"value":-4},"labels":false,"title":null}},
"y":{"field":"val","type":"quantitative","scale":{"domain":[-2,4],"nice":false,"zero":false},"axis":{"orient":"right","values":[-2,-1.5,-1,-0.5,0,0.5,1,1.5,2,2.5,3,3.5,4],"tickSize":{"condition":{"test":"datum.value==0||datum.value==2||datum.value==4||datum.value==-2","value":-8},"value":-4},"labels":false,"title":null}},
"shape":{"field":"type","type":"nominal","scale":{"domain":["cluster","filament","sheet","void"],"range":["square","circle","circle","circle"]},"legend":null},
"fill":{"field":"type","type":"nominal","scale":{"domain":["cluster","filament","sheet","void"],"range":["#ff6a6a","#d6faff","#22e022","#1414e0"]},"legend":null},
"stroke":{"field":"type","type":"nominal","scale":{"domain":["cluster","filament","sheet","void"],"range":["#ff1a1a","#2fe3f5","#22e022","#1414e0"]},"legend":null}}}
]},
{"width":168,"height":167,"title":{"text":"11.5 ≤log Mₕ <12.0","frame":"group","anchor":"end","offset":-21,"dx":-16,"dy":17,"baseline":"alphabetic"},
"resolve":{"axis":{"x":"independent","y":"independent"}},
"layer":[
{"data":{"name":"pts"},"transform":[{"filter":"datum.p==4"},{"filter":"isValid(datum.model)"}],"mark":{"type":"line","color":"black","strokeWidth":1,"clip":true},
"encoding":{"x":{"field":"r","type":"quantitative","scale":{"type":"log","domain":[0.1,62.7],"nice":false},"axis":{"orient":"bottom","values":[0.1,0.2,0.3,0.4,0.5,0.6,0.7,0.8,0.9,1,2,3,4,5,6,7,8,9,10,20,30,40,50,60],"tickSize":{"condition":{"test":"datum.value==0.1||datum.value==1||datum.value==10","value":-8},"value":-4},"labels":false,"title":null}},
"y":{"field":"model","type":"quantitative","scale":{"domain":[-2,4],"nice":false,"zero":false},"axis":{"orient":"left","values":[-2,-1.5,-1,-0.5,0,0.5,1,1.5,2,2.5,3,3.5,4],"tickSize":{"condition":{"test":"datum.value==0||datum.value==2||datum.value==4||datum.value==-2","value":-8},"value":-4},"labelExpr":"datum.value==0?'0':datum.value==2?'2':datum.value==4?'4':''","labelPadding":13,"title":"log [ξ(r)]","titlePadding":3}}}},
{"data":{"name":"err"},"transform":[{"filter":"datum.p==4"}],"mark":{"type":"errorbar","ticks":true},
"encoding":{"x":{"field":"r","type":"quantitative","scale":{"type":"log","domain":[0.1,62.7],"nice":false},"axis":null},"y":{"field":"lo","type":"quantitative","scale":{"domain":[-2,4],"nice":false,"zero":false},"axis":null},"y2":{"field":"hi"},
"color":{"field":"type","type":"nominal","scale":{"domain":["cluster","filament","sheet","void"],"range":["#ff2a2a","#2fe3f5","#22e022","#4040f0"]},"legend":null}}},
{"data":{"name":"pts"},"transform":[{"filter":"datum.p==4"},{"fold":["cluster","filament","sheet","void"],"as":["type","val"]},{"filter":"isValid(datum.val)"}],"mark":{"type":"point","filled":true,"size":24,"strokeWidth":1,"opacity":1,"clip":true},
"encoding":{"x":{"field":"r","type":"quantitative","scale":{"type":"log","domain":[0.1,62.7],"nice":false},"axis":{"orient":"top","values":[0.1,0.2,0.3,0.4,0.5,0.6,0.7,0.8,0.9,1,2,3,4,5,6,7,8,9,10,20,30,40,50,60],"tickSize":{"condition":{"test":"datum.value==0.1||datum.value==1||datum.value==10","value":-8},"value":-4},"labels":false,"title":null}},
"y":{"field":"val","type":"quantitative","scale":{"domain":[-2,4],"nice":false,"zero":false},"axis":{"orient":"right","values":[-2,-1.5,-1,-0.5,0,0.5,1,1.5,2,2.5,3,3.5,4],"tickSize":{"condition":{"test":"datum.value==0||datum.value==2||datum.value==4||datum.value==-2","value":-8},"value":-4},"labels":false,"title":null}},
"shape":{"field":"type","type":"nominal","scale":{"domain":["cluster","filament","sheet","void"],"range":["square","circle","circle","circle"]},"legend":null},
"fill":{"field":"type","type":"nominal","scale":{"domain":["cluster","filament","sheet","void"],"range":["#ff6a6a","#d6faff","#22e022","#1414e0"]},"legend":null},
"stroke":{"field":"type","type":"nominal","scale":{"domain":["cluster","filament","sheet","void"],"range":["#ff1a1a","#2fe3f5","#22e022","#1414e0"]},"legend":null}}}
]},
{"width":168,"height":167,"title":{"text":"12.0 ≤log Mₕ <12.5","frame":"group","anchor":"end","offset":-21,"dx":-16,"dy":17,"baseline":"alphabetic"},
"resolve":{"axis":{"x":"independent","y":"independent"}},
"layer":[
{"data":{"name":"pts"},"transform":[{"filter":"datum.p==5"},{"filter":"isValid(datum.model)"}],"mark":{"type":"line","color":"black","strokeWidth":1,"clip":true},
"encoding":{"x":{"field":"r","type":"quantitative","scale":{"type":"log","domain":[0.1,62.7],"nice":false},"axis":{"orient":"bottom","values":[0.1,0.2,0.3,0.4,0.5,0.6,0.7,0.8,0.9,1,2,3,4,5,6,7,8,9,10,20,30,40,50,60],"tickSize":{"condition":{"test":"datum.value==0.1||datum.value==1||datum.value==10","value":-8},"value":-4},"labels":false,"title":null}},
"y":{"field":"model","type":"quantitative","scale":{"domain":[-2,4],"nice":false,"zero":false},"axis":{"orient":"left","values":[-2,-1.5,-1,-0.5,0,0.5,1,1.5,2,2.5,3,3.5,4],"tickSize":{"condition":{"test":"datum.value==0||datum.value==2||datum.value==4||datum.value==-2","value":-8},"value":-4},"labels":false,"title":null}}}},
{"data":{"name":"err"},"transform":[{"filter":"datum.p==5"}],"mark":{"type":"errorbar","ticks":true},
"encoding":{"x":{"field":"r","type":"quantitative","scale":{"type":"log","domain":[0.1,62.7],"nice":false},"axis":null},"y":{"field":"lo","type":"quantitative","scale":{"domain":[-2,4],"nice":false,"zero":false},"axis":null},"y2":{"field":"hi"},
"color":{"field":"type","type":"nominal","scale":{"domain":["cluster","filament","sheet","void"],"range":["#ff2a2a","#2fe3f5","#22e022","#4040f0"]},"legend":null}}},
{"data":{"name":"pts"},"transform":[{"filter":"datum.p==5"},{"fold":["cluster","filament","sheet","void"],"as":["type","val"]},{"filter":"isValid(datum.val)"}],"mark":{"type":"point","filled":true,"size":24,"strokeWidth":1,"opacity":1,"clip":true},
"encoding":{"x":{"field":"r","type":"quantitative","scale":{"type":"log","domain":[0.1,62.7],"nice":false},"axis":{"orient":"top","values":[0.1,0.2,0.3,0.4,0.5,0.6,0.7,0.8,0.9,1,2,3,4,5,6,7,8,9,10,20,30,40,50,60],"tickSize":{"condition":{"test":"datum.value==0.1||datum.value==1||datum.value==10","value":-8},"value":-4},"labels":false,"title":null}},
"y":{"field":"val","type":"quantitative","scale":{"domain":[-2,4],"nice":false,"zero":false},"axis":{"orient":"right","values":[-2,-1.5,-1,-0.5,0,0.5,1,1.5,2,2.5,3,3.5,4],"tickSize":{"condition":{"test":"datum.value==0||datum.value==2||datum.value==4||datum.value==-2","value":-8},"value":-4},"labels":false,"title":null}},
"shape":{"field":"type","type":"nominal","scale":{"domain":["cluster","filament","sheet","void"],"range":["square","circle","circle","circle"]},"legend":null},
"fill":{"field":"type","type":"nominal","scale":{"domain":["cluster","filament","sheet","void"],"range":["#ff6a6a","#d6faff","#22e022","#1414e0"]},"legend":null},
"stroke":{"field":"type","type":"nominal","scale":{"domain":["cluster","filament","sheet","void"],"range":["#ff1a1a","#2fe3f5","#22e022","#1414e0"]},"legend":null}}}
]},
{"width":168,"height":167,"title":{"text":"12.5 ≤log Mₕ <13.0","frame":"group","anchor":"end","offset":-21,"dx":-16,"dy":17,"baseline":"alphabetic"},
"resolve":{"axis":{"x":"independent","y":"independent"}},
"layer":[
{"data":{"name":"pts"},"transform":[{"filter":"datum.p==6"},{"filter":"isValid(datum.model)"}],"mark":{"type":"line","color":"black","strokeWidth":1,"clip":true},
"encoding":{"x":{"field":"r","type":"quantitative","scale":{"type":"log","domain":[0.1,62.7],"nice":false},"axis":{"orient":"bottom","values":[0.1,0.2,0.3,0.4,0.5,0.6,0.7,0.8,0.9,1,2,3,4,5,6,7,8,9,10,20,30,40,50,60],"tickSize":{"condition":{"test":"datum.value==0.1||datum.value==1||datum.value==10","value":-8},"value":-4},"labels":false,"title":null}},
"y":{"field":"model","type":"quantitative","scale":{"domain":[-2,4],"nice":false,"zero":false},"axis":{"orient":"left","values":[-2,-1.5,-1,-0.5,0,0.5,1,1.5,2,2.5,3,3.5,4],"tickSize":{"condition":{"test":"datum.value==0||datum.value==2||datum.value==4||datum.value==-2","value":-8},"value":-4},"labels":false,"title":null}}}},
{"data":{"name":"pts"},"transform":[{"filter":"datum.p==6"},{"fold":["cluster","filament","sheet","void"],"as":["type","val"]},{"filter":"isValid(datum.val)"}],"mark":{"type":"point","filled":true,"size":24,"strokeWidth":1,"opacity":1,"clip":true},
"encoding":{"x":{"field":"r","type":"quantitative","scale":{"type":"log","domain":[0.1,62.7],"nice":false},"axis":{"orient":"top","values":[0.1,0.2,0.3,0.4,0.5,0.6,0.7,0.8,0.9,1,2,3,4,5,6,7,8,9,10,20,30,40,50,60],"tickSize":{"condition":{"test":"datum.value==0.1||datum.value==1||datum.value==10","value":-8},"value":-4},"labels":false,"title":null}},
"y":{"field":"val","type":"quantitative","scale":{"domain":[-2,4],"nice":false,"zero":false},"axis":{"orient":"right","values":[-2,-1.5,-1,-0.5,0,0.5,1,1.5,2,2.5,3,3.5,4],"tickSize":{"condition":{"test":"datum.value==0||datum.value==2||datum.value==4||datum.value==-2","value":-8},"value":-4},"labels":false,"title":null}},
"shape":{"field":"type","type":"nominal","scale":{"domain":["cluster","filament","sheet","void"],"range":["square","circle","circle","circle"]},"legend":null},
"fill":{"field":"type","type":"nominal","scale":{"domain":["cluster","filament","sheet","void"],"range":["#ff6a6a","#d6faff","#22e022","#1414e0"]},"legend":null},
"stroke":{"field":"type","type":"nominal","scale":{"domain":["cluster","filament","sheet","void"],"range":["#ff1a1a","#2fe3f5","#22e022","#1414e0"]},"legend":null}}}
]},
{"width":168,"height":167,"title":{"text":"13.0 ≤log Mₕ <13.5","frame":"group","anchor":"end","offset":-21,"dx":-16,"dy":17,"baseline":"alphabetic"},
"resolve":{"axis":{"x":"independent","y":"independent"}},
"layer":[
{"data":{"name":"pts"},"transform":[{"filter":"datum.p==7"},{"filter":"isValid(datum.model)"}],"mark":{"type":"line","color":"black","strokeWidth":1,"clip":true},
"encoding":{"x":{"field":"r","type":"quantitative","scale":{"type":"log","domain":[0.1,62.7],"nice":false},"axis":{"orient":"bottom","values":[0.1,0.2,0.3,0.4,0.5,0.6,0.7,0.8,0.9,1,2,3,4,5,6,7,8,9,10,20,30,40,50,60],"tickSize":{"condition":{"test":"datum.value==0.1||datum.value==1||datum.value==10","value":-8},"value":-4},"labelExpr":"datum.value==0.1?'0.1':datum.value==1?'1':datum.value==10?'10':''","labelPadding":15,"title":"r / h⁻¹Mpc","titlePadding":-2}},
"y":{"field":"model","type":"quantitative","scale":{"domain":[-2,4],"nice":false,"zero":false},"axis":{"orient":"left","values":[-2,-1.5,-1,-0.5,0,0.5,1,1.5,2,2.5,3,3.5,4],"tickSize":{"condition":{"test":"datum.value==0||datum.value==2||datum.value==4||datum.value==-2","value":-8},"value":-4},"labelExpr":"datum.value==0?'0':datum.value==2?'2':datum.value==4?'4':''","labelPadding":13,"title":"log [ξ(r)]","titlePadding":3}}}},
{"data":{"name":"err"},"transform":[{"filter":"datum.p==7"}],"mark":{"type":"errorbar","ticks":true},
"encoding":{"x":{"field":"r","type":"quantitative","scale":{"type":"log","domain":[0.1,62.7],"nice":false},"axis":null},"y":{"field":"lo","type":"quantitative","scale":{"domain":[-2,4],"nice":false,"zero":false},"axis":null},"y2":{"field":"hi"},
"color":{"field":"type","type":"nominal","scale":{"domain":["cluster","filament","sheet","void"],"range":["#ff2a2a","#2fe3f5","#22e022","#4040f0"]},"legend":null}}},
{"data":{"name":"pts"},"transform":[{"filter":"datum.p==7"},{"fold":["cluster","filament","sheet","void"],"as":["type","val"]},{"filter":"isValid(datum.val)"}],"mark":{"type":"point","filled":true,"size":24,"strokeWidth":1,"opacity":1,"clip":true},
"encoding":{"x":{"field":"r","type":"quantitative","scale":{"type":"log","domain":[0.1,62.7],"nice":false},"axis":{"orient":"top","values":[0.1,0.2,0.3,0.4,0.5,0.6,0.7,0.8,0.9,1,2,3,4,5,6,7,8,9,10,20,30,40,50,60],"tickSize":{"condition":{"test":"datum.value==0.1||datum.value==1||datum.value==10","value":-8},"value":-4},"labels":false,"title":null}},
"y":{"field":"val","type":"quantitative","scale":{"domain":[-2,4],"nice":false,"zero":false},"axis":{"orient":"right","values":[-2,-1.5,-1,-0.5,0,0.5,1,1.5,2,2.5,3,3.5,4],"tickSize":{"condition":{"test":"datum.value==0||datum.value==2||datum.value==4||datum.value==-2","value":-8},"value":-4},"labels":false,"title":null}},
"shape":{"field":"type","type":"nominal","scale":{"domain":["cluster","filament","sheet","void"],"range":["square","circle","circle","circle"]},"legend":null},
"fill":{"field":"type","type":"nominal","scale":{"domain":["cluster","filament","sheet","void"],"range":["#ff6a6a","#d6faff","#22e022","#1414e0"]},"legend":null},
"stroke":{"field":"type","type":"nominal","scale":{"domain":["cluster","filament","sheet","void"],"range":["#ff1a1a","#2fe3f5","#22e022","#1414e0"]},"legend":null}}}
]},
{"width":168,"height":167,"title":{"text":"13.5 ≤log Mₕ <14.0","frame":"group","anchor":"end","offset":-21,"dx":-16,"dy":17,"baseline":"alphabetic"},
"resolve":{"axis":{"x":"independent","y":"independent"}},
"layer":[
{"data":{"name":"pts"},"transform":[{"filter":"datum.p==8"},{"filter":"isValid(datum.model)"}],"mark":{"type":"line","color":"black","strokeWidth":1,"clip":true},
"encoding":{"x":{"field":"r","type":"quantitative","scale":{"type":"log","domain":[0.1,62.7],"nice":false},"axis":{"orient":"bottom","values":[0.1,0.2,0.3,0.4,0.5,0.6,0.7,0.8,0.9,1,2,3,4,5,6,7,8,9,10,20,30,40,50,60],"tickSize":{"condition":{"test":"datum.value==0.1||datum.value==1||datum.value==10","value":-8},"value":-4},"labelExpr":"datum.value==0.1?'0.1':datum.value==1?'1':datum.value==10?'10':''","labelPadding":15,"title":"r / h⁻¹Mpc","titlePadding":-2}},
"y":{"field":"model","type":"quantitative","scale":{"domain":[-2,4],"nice":false,"zero":false},"axis":{"orient":"left","values":[-2,-1.5,-1,-0.5,0,0.5,1,1.5,2,2.5,3,3.5,4],"tickSize":{"condition":{"test":"datum.value==0||datum.value==2||datum.value==4||datum.value==-2","value":-8},"value":-4},"labels":false,"title":null}}}},
{"data":{"name":"pts"},"transform":[{"filter":"datum.p==8"},{"fold":["cluster","filament","sheet","void"],"as":["type","val"]},{"filter":"isValid(datum.val)"}],"mark":{"type":"point","filled":true,"size":24,"strokeWidth":1,"opacity":1,"clip":true},
"encoding":{"x":{"field":"r","type":"quantitative","scale":{"type":"log","domain":[0.1,62.7],"nice":false},"axis":{"orient":"top","values":[0.1,0.2,0.3,0.4,0.5,0.6,0.7,0.8,0.9,1,2,3,4,5,6,7,8,9,10,20,30,40,50,60],"tickSize":{"condition":{"test":"datum.value==0.1||datum.value==1||datum.value==10","value":-8},"value":-4},"labels":false,"title":null}},
"y":{"field":"val","type":"quantitative","scale":{"domain":[-2,4],"nice":false,"zero":false},"axis":{"orient":"right","values":[-2,-1.5,-1,-0.5,0,0.5,1,1.5,2,2.5,3,3.5,4],"tickSize":{"condition":{"test":"datum.value==0||datum.value==2||datum.value==4||datum.value==-2","value":-8},"value":-4},"labels":false,"title":null}},
"shape":{"field":"type","type":"nominal","scale":{"domain":["cluster","filament","sheet","void"],"range":["square","circle","circle","circle"]},"legend":null},
"fill":{"field":"type","type":"nominal","scale":{"domain":["cluster","filament","sheet","void"],"range":["#ff6a6a","#d6faff","#22e022","#1414e0"]},"legend":null},
"stroke":{"field":"type","type":"nominal","scale":{"domain":["cluster","filament","sheet","void"],"range":["#ff1a1a","#2fe3f5","#22e022","#1414e0"]},"legend":null}}}
]},
{"width":168,"height":167,"title":{"text":"14.0 ≤log Mₕ","frame":"group","anchor":"end","offset":-21,"dx":-45,"dy":17,"baseline":"alphabetic"},
"resolve":{"axis":{"x":"independent","y":"independent"}},
"layer":[
{"data":{"name":"pts"},"transform":[{"filter":"datum.p==9"},{"filter":"isValid(datum.model)"}],"mark":{"type":"line","color":"black","strokeWidth":1,"clip":true},
"encoding":{"x":{"field":"r","type":"quantitative","scale":{"type":"log","domain":[0.1,62.7],"nice":false},"axis":{"orient":"bottom","values":[0.1,0.2,0.3,0.4,0.5,0.6,0.7,0.8,0.9,1,2,3,4,5,6,7,8,9,10,20,30,40,50,60],"tickSize":{"condition":{"test":"datum.value==0.1||datum.value==1||datum.value==10","value":-8},"value":-4},"labelExpr":"datum.value==0.1?'0.1':datum.value==1?'1':datum.value==10?'10':''","labelPadding":15,"title":"r / h⁻¹Mpc","titlePadding":-2}},
"y":{"field":"model","type":"quantitative","scale":{"domain":[-2,4],"nice":false,"zero":false},"axis":{"orient":"left","values":[-2,-1.5,-1,-0.5,0,0.5,1,1.5,2,2.5,3,3.5,4],"tickSize":{"condition":{"test":"datum.value==0||datum.value==2||datum.value==4||datum.value==-2","value":-8},"value":-4},"labels":false,"title":null}}}},
{"data":{"name":"err"},"transform":[{"filter":"datum.p==9"}],"mark":{"type":"errorbar","ticks":true,"color":"#2fe3f5"},
"encoding":{"x":{"field":"r","type":"quantitative","scale":{"type":"log","domain":[0.1,62.7],"nice":false},"axis":null},"y":{"field":"lo","type":"quantitative","scale":{"domain":[-2,4],"nice":false,"zero":false},"axis":null},"y2":{"field":"hi"}}},
{"data":{"name":"pts"},"transform":[{"filter":"datum.p==9"},{"fold":["cluster","filament","sheet","void"],"as":["type","val"]},{"filter":"isValid(datum.val)"}],"mark":{"type":"point","filled":true,"size":24,"strokeWidth":1,"opacity":1,"clip":true},
"encoding":{"x":{"field":"r","type":"quantitative","scale":{"type":"log","domain":[0.1,62.7],"nice":false},"axis":{"orient":"top","values":[0.1,0.2,0.3,0.4,0.5,0.6,0.7,0.8,0.9,1,2,3,4,5,6,7,8,9,10,20,30,40,50,60],"tickSize":{"condition":{"test":"datum.value==0.1||datum.value==1||datum.value==10","value":-8},"value":-4},"labels":false,"title":null}},
"y":{"field":"val","type":"quantitative","scale":{"domain":[-2,4],"nice":false,"zero":false},"axis":{"orient":"right","values":[-2,-1.5,-1,-0.5,0,0.5,1,1.5,2,2.5,3,3.5,4],"tickSize":{"condition":{"test":"datum.value==0||datum.value==2||datum.value==4||datum.value==-2","value":-8},"value":-4},"labels":false,"title":null}},
"shape":{"field":"type","type":"nominal","scale":{"domain":["cluster","filament","sheet","void"],"range":["square","circle","circle","circle"]},"legend":{"orient":"none","legendX":12,"legendY":103,"padding":0,"rowPadding":1,"labelFontSize":12,"symbolSize":18,"labelOffset":7,"title":null,"symbolStrokeWidth":1}},
"fill":{"field":"type","type":"nominal","scale":{"domain":["cluster","filament","sheet","void"],"range":["#ff6a6a","#d6faff","#22e022","#1414e0"]},"legend":{"orient":"none","legendX":12,"legendY":103,"padding":0,"rowPadding":1,"labelFontSize":12,"symbolSize":18,"labelOffset":7,"title":null,"symbolStrokeWidth":1}},
"stroke":{"field":"type","type":"nominal","scale":{"domain":["cluster","filament","sheet","void"],"range":["#ff1a1a","#2fe3f5","#22e022","#1414e0"]},"legend":{"orient":"none","legendX":12,"legendY":103,"padding":0,"rowPadding":1,"labelFontSize":12,"symbolSize":18,"labelOffset":7,"title":null,"symbolStrokeWidth":1}}}}
]}
]
}
